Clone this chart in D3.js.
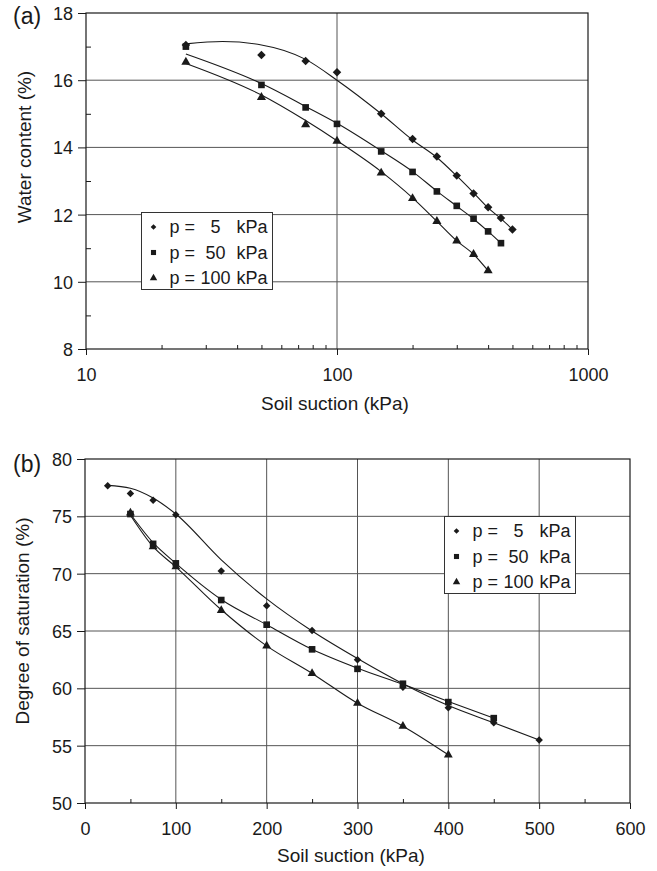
<!DOCTYPE html>
<html>
<head>
<meta charset="utf-8">
<script src="https://cdn.jsdelivr.net/npm/d3@7"></script>
<style>
  body { margin: 0; background: #fff; }
  svg { display: block; font-family: "Liberation Sans", Arial, sans-serif; }
</style>
</head>
<body>
<div id="chart"></div>
<script>
// ---- data ----
var pressures = ["5", "50", "100"]
var symbols = [d3.symbolSquare, d3.symbolSquare, d3.symbolTriangle]
var rotations = [45, 0, 0]

// (a) water content vs suction
var suctionA5 = [25, 50, 75, 100, 150, 200, 250, 300, 350, 400, 450, 500]
var waterA5 = [17.05, 16.75, 16.57, 16.24, 15.0, 14.25, 13.73, 13.16, 12.63, 12.22, 11.9, 11.56]
var suctionA50 = [25, 50, 75, 100, 150, 200, 250, 300, 350, 400, 450]
var waterA50 = [17.0, 15.86, 15.19, 14.7, 13.88, 13.27, 12.69, 12.26, 11.88, 11.5, 11.15]
var suctionA100 = [25, 50, 75, 100, 150, 200, 250, 300, 350, 400]
var waterA100 = [16.54, 15.49, 14.68, 14.19, 13.24, 12.48, 11.8, 11.22, 10.82, 10.33]

// trend curves drawn in (a)
var trendA5x = [25, 35, 50, 75, 100, 150, 200, 250, 300, 350, 400, 450, 500]
var trendA5y = [17.08, 17.15, 17.05, 16.62, 16.0, 15.0, 14.22, 13.7, 13.15, 12.65, 12.2, 11.88, 11.56]
var trendA50x = [25, 50, 75, 100, 150, 200, 250, 300, 350, 400, 450]
var trendA50y = [16.78, 15.9, 15.22, 14.72, 13.9, 13.28, 12.7, 12.25, 11.87, 11.5, 11.15]
var trendA100x = [25, 50, 75, 100, 150, 200, 250, 300, 350, 400]
var trendA100y = [16.5, 15.56, 14.8, 14.2, 13.28, 12.5, 11.8, 11.22, 10.82, 10.33]

// (b) degree of saturation vs suction
var suctionB5 = [25, 50, 75, 100, 150, 200, 250, 300, 350, 400, 450, 500]
var satB5 = [77.67, 77.0, 76.4, 75.14, 70.23, 67.2, 65.05, 62.5, 60.1, 58.3, 57.0, 55.5]
var suctionB50 = [50, 75, 100, 150, 200, 250, 300, 350, 400, 450]
var satB50 = [75.2, 72.6, 70.9, 67.7, 65.55, 63.4, 61.7, 60.4, 58.8, 57.4]
var suctionB100 = [50, 75, 100, 150, 200, 250, 300, 350, 400]
var satB100 = [75.3, 72.35, 70.6, 66.8, 63.7, 61.3, 58.7, 56.7, 54.2]

var trendB5x = [25, 50, 75, 100, 150, 200, 250, 300, 350, 400, 450, 500]
var trendB5y = [77.7, 77.45, 76.6, 75.2, 71.2, 67.8, 65.0, 62.6, 60.4, 58.5, 57.0, 55.5]
var trendB50x = suctionB50
var trendB50y = [75.2, 72.7, 70.9, 67.75, 65.55, 63.4, 61.75, 60.35, 58.85, 57.4]
var trendB100x = suctionB100
var trendB100y = [75.1, 72.35, 70.6, 66.85, 63.7, 61.3, 58.7, 56.7, 54.2]

var ticksA_x = [10, 100, 1000]
var ticksA_y = [8, 10, 12, 14, 16, 18]
var ticksB_x = [0, 100, 200, 300, 400, 500, 600]
var ticksB_y = [50, 55, 60, 65, 70, 75, 80]

var zip = function (xs, ys) {
  return xs.map(function (x, i) { return [x, ys[i]] })
}

// ---- drawing ----
var svg = d3.select("#chart").append("svg")
  .attr("width", 657)
  .attr("height", 871)

var ink = "#1a1a1a"
var gridCol = "#555"

var drawPanel = function (cfg) {
  var x = cfg.x, y = cfg.y
  var g = svg.append("g")
  var x0 = x.range()[0], x1 = x.range()[1]
  var y0 = y.range()[0], y1 = y.range()[1]

  // grid
  g.append("g").selectAll("line")
    .data(cfg.gridY)
    .join("line")
    .attr("x1", x0).attr("x2", x1)
    .attr("y1", d => y(d)).attr("y2", d => y(d))
    .attr("stroke", gridCol).attr("stroke-width", 1)
  g.append("g").selectAll("line")
    .data(cfg.gridX)
    .join("line")
    .attr("y1", y0).attr("y2", y1)
    .attr("x1", d => x(d)).attr("x2", d => x(d))
    .attr("stroke", gridCol).attr("stroke-width", 1)

  // frame
  g.append("rect")
    .attr("x", x0).attr("y", y1)
    .attr("width", x1 - x0).attr("height", y0 - y1)
    .attr("fill", "none").attr("stroke", ink).attr("stroke-width", 1.2)

  // axes
  var ax = g.append("g")
    .attr("transform", `translate(0,${y0})`)
    .call(d3.axisBottom(x).tickValues(cfg.ticksX).tickSize(6).tickPadding(13).tickFormat(d3.format("d")))
  var ay = g.append("g")
    .attr("transform", `translate(${x0},0)`)
    .call(d3.axisLeft(y).tickValues(cfg.ticksY).tickSize(8).tickPadding(5).tickFormat(d3.format("d")))
  ;[ax, ay].forEach(function (a) {
    a.select(".domain").remove()
    a.selectAll("line").attr("stroke", ink)
    a.selectAll("text").attr("font-size", 18).attr("fill", ink).attr("font-family", "Liberation Sans, Arial, sans-serif")
  })
  ay.selectAll("text").attr("dy", "0.36em")

  // minor ticks (inside)
  g.append("g")
    .attr("transform", `translate(0,${y0})`)
    .call(d3.axisBottom(x).tickValues(cfg.minorX).tickSize(-4).tickFormat(""))
    .call(a => a.select(".domain").remove())
    .selectAll("line").attr("stroke", ink)
  if (cfg.minorY.length) {
    g.append("g")
      .attr("transform", `translate(${x0},0)`)
      .call(d3.axisLeft(y).tickValues(cfg.minorY).tickSize(-5).tickFormat(""))
      .call(a => a.select(".domain").remove())
      .selectAll("line").attr("stroke", ink)
  }

  // trend curves
  var line = d3.line()
    .x(d => x(d[0]))
    .y(d => y(d[1]))
    .curve(d3.curveMonotoneX)
  cfg.trends.forEach(function (t) {
    g.append("path")
      .attr("d", line(t))
      .attr("fill", "none")
      .attr("stroke", ink)
      .attr("stroke-width", 1.1)
  })

  // markers
  cfg.series.forEach(function (s, i) {
    g.append("g").selectAll("path")
      .data(s)
      .join("path")
      .attr("transform", d => `translate(${x(d[0])},${y(d[1])}) rotate(${rotations[i]})`)
      .attr("d", d3.symbol().type(symbols[i]).size(cfg.markerSize[i]))
      .attr("fill", ink)
  })

  // legend
  var lg = g.append("g").attr("transform", `translate(${cfg.legend[0]},${cfg.legend[1]})`)
  lg.append("rect")
    .attr("width", 131).attr("height", 77)
    .attr("fill", "#fff").attr("stroke", "#333").attr("stroke-width", 1)
  pressures.forEach(function (p, i) {
    var row = lg.append("g").attr("transform", `translate(0,${14.5 + i * 25.5})`)
    row.append("path")
      .attr("transform", `translate(12,0) rotate(${rotations[i]})`)
      .attr("d", d3.symbol().type(symbols[i]).size([16, 26, 24][i]))
      .attr("fill", ink)
    row.append("text").attr("x", 28).attr("dy", "0.36em").text("p =")
    row.append("text").attr("x", 74).attr("dy", "0.36em").attr("text-anchor", "middle").text(p)
    row.append("text").attr("x", 95).attr("dy", "0.36em").text("kPa")
    row.selectAll("text").attr("font-size", 18).attr("fill", ink)
  })

  // titles
  g.append("text")
    .attr("x", cfg.xTitle[0]).attr("y", cfg.xTitle[1])
    .attr("text-anchor", "middle").attr("font-size", 19).attr("fill", ink)
    .text("Soil suction (kPa)")
  g.append("text")
    .attr("transform", `translate(${cfg.yTitle[0]},${cfg.yTitle[1]}) rotate(-90)`)
    .attr("text-anchor", "middle").attr("dy", "0.36em").attr("font-size", 19).attr("fill", ink)
    .text(cfg.yLabel)
  g.append("text")
    .attr("x", 13).attr("y", cfg.tag[1])
    .attr("dy", "0.36em").attr("font-size", 23).attr("fill", ink)
    .text(cfg.tag[0])
}

drawPanel({
  x: d3.scaleLog().domain([10, 1000]).range([86, 588]),
  y: d3.scaleLinear().domain([8, 18]).range([349, 13]),
  ticksX: ticksA_x,
  ticksY: ticksA_y,
  minorX: [20, 30, 40, 50, 60, 70, 80, 90, 200, 300, 400, 500, 600, 700, 800, 900],
  minorY: [9, 11, 13, 15, 17],
  gridX: [100],
  gridY: [10, 12, 14, 16],
  trends: [zip(trendA5x, trendA5y), zip(trendA50x, trendA50y), zip(trendA100x, trendA100y)],
  series: [zip(suctionA5, waterA5), zip(suctionA50, waterA50), zip(suctionA100, waterA100)],
  markerSize: [36, 44, 36],
  legend: [141.5, 212.5],
  xTitle: [335, 410],
  yTitle: [24, 147],
  yLabel: "Water content (%)",
  tag: ["(a)", 16]
})

drawPanel({
  x: d3.scaleLinear().domain([0, 600]).range([85, 630]),
  y: d3.scaleLinear().domain([50, 80]).range([803, 459]),
  ticksX: ticksB_x,
  ticksY: ticksB_y,
  minorX: [50, 150, 250, 350, 450, 550],
  minorY: [],
  gridX: [100, 200, 300, 400, 500],
  gridY: [55, 60, 65, 70, 75],
  trends: [zip(trendB5x, trendB5y), zip(trendB50x, trendB50y), zip(trendB100x, trendB100y)],
  series: [zip(suctionB5, satB5), zip(suctionB50, satB50), zip(suctionB100, satB100)],
  markerSize: [28, 44, 34],
  legend: [444.5, 516.5],
  xTitle: [351, 862],
  yTitle: [22, 621],
  yLabel: "Degree of saturation (%)",
  tag: ["(b)", 464]
})
</script>
</body>
</html>
